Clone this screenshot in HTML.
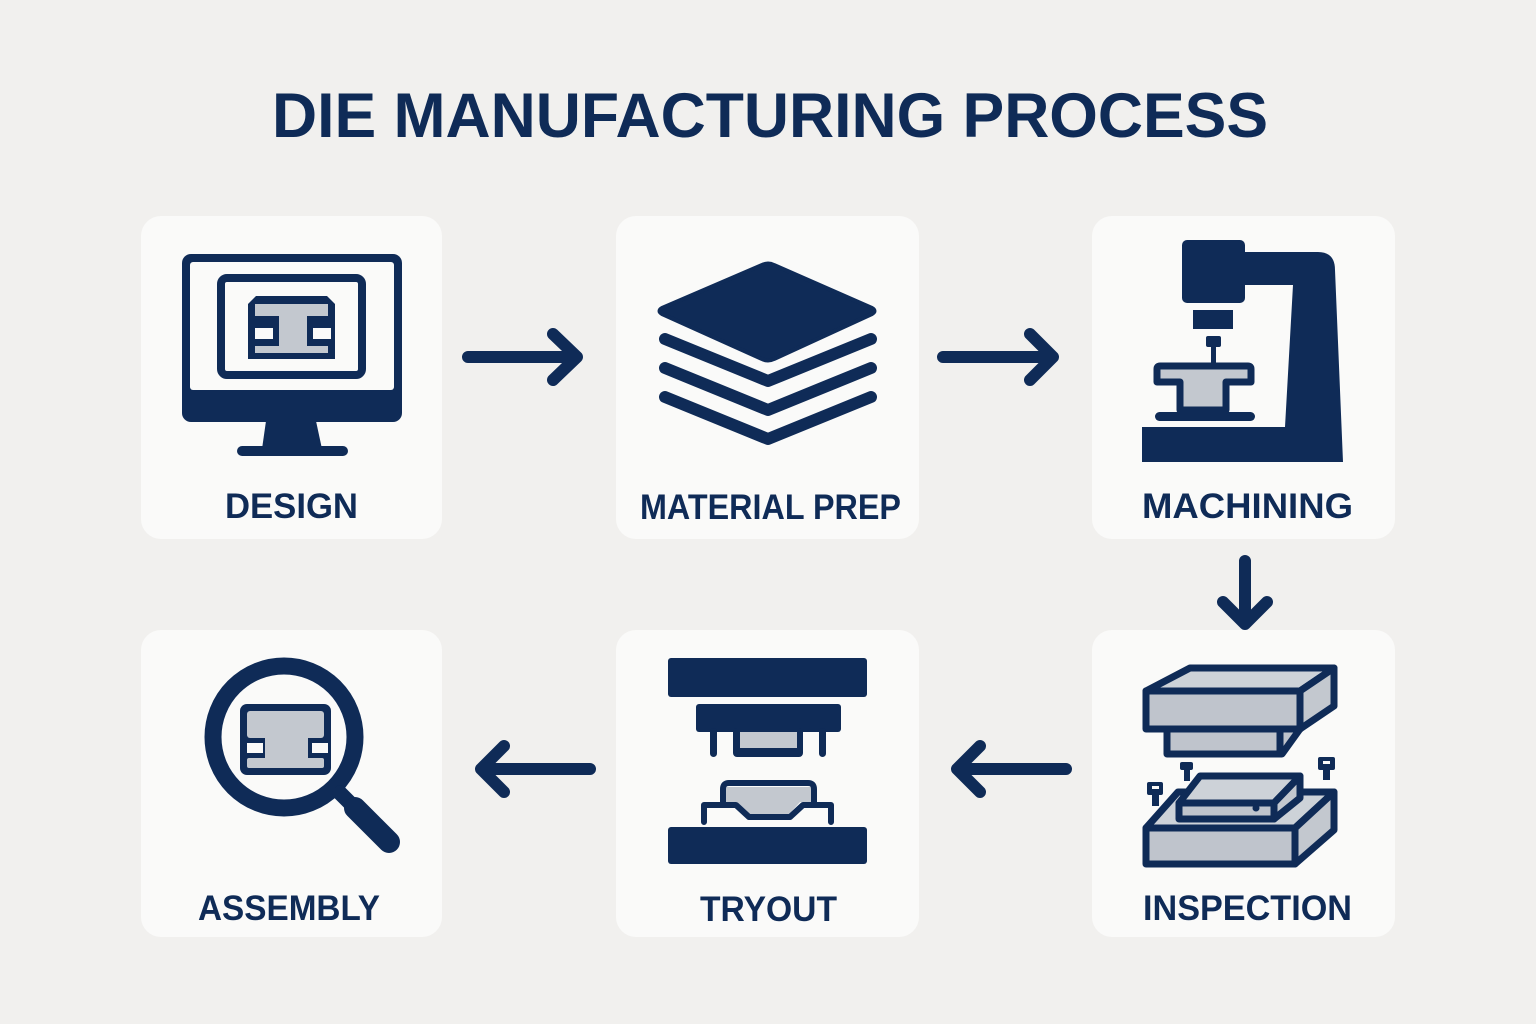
<!DOCTYPE html>
<html>
<head>
<meta charset="utf-8">
<style>
  html,body{margin:0;padding:0;background:#f1f0ee;}
  svg{display:block;}
  text{font-family:"Liberation Sans",Arial,sans-serif;font-weight:bold;fill:#0f2b57;}
</style>
</head>
<body>
<svg width="1536" height="1024" viewBox="0 0 1536 1024" xmlns="http://www.w3.org/2000/svg">
  <rect x="0" y="0" width="1536" height="1024" fill="#f1f0ee"/>

  <!-- Title -->
  <text x="272" y="137" font-size="63" textLength="996" lengthAdjust="spacingAndGlyphs">DIE MANUFACTURING PROCESS</text>

  <!-- Cards -->
  <g fill="#fafaf9">
    <rect x="141" y="216" width="301" height="323" rx="20"/>
    <rect x="616" y="216" width="303" height="323" rx="20"/>
    <rect x="1092" y="216" width="303" height="323" rx="20"/>
    <rect x="141" y="630" width="301" height="307" rx="20"/>
    <rect x="616" y="630" width="303" height="307" rx="20"/>
    <rect x="1092" y="630" width="303" height="307" rx="20"/>
  </g>

  <!-- Arrows -->
  <g fill="none" stroke="#0f2b57" stroke-width="12" stroke-linecap="round" stroke-linejoin="round">
    <path d="M468,357 H574 M553,334 L577,357 L553,380"/>
    <path d="M943,357 H1049 M1030,334 L1053,357 L1030,380"/>
    <path d="M1245,561 V622 M1223,602 L1245,624 L1267,602"/>
    <path d="M1066,769 H960 M980,746 L957,769 L980,792"/>
    <path d="M590,769 H484 M504,746 L481,769 L504,792"/>
  </g>

  <!-- DESIGN icon -->
  <g>
    <rect x="182" y="254" width="220" height="168" rx="9" fill="#0f2b57"/>
    <rect x="190" y="262" width="204" height="128" rx="3" fill="#fafaf9"/>
    <polygon points="266,421 316,421 322,449 262,449" fill="#0f2b57"/>
    <rect x="237" y="446" width="111" height="10" rx="5" fill="#0f2b57"/>
    <rect x="221" y="278" width="141" height="97" rx="6" fill="none" stroke="#0f2b57" stroke-width="8"/>
    <!-- I shape -->
    <path d="M256,296 H327 L335,304 V359 H248 V304 Z" fill="#0f2b57"/>
    <rect x="255" y="304" width="73" height="12" fill="#c3c8cf"/>
    <rect x="279" y="316" width="28" height="32" fill="#c3c8cf"/>
    <rect x="255" y="346" width="73" height="7" fill="#c3c8cf"/>
    <rect x="255" y="328" width="18" height="11" fill="#fafaf9"/>
    <rect x="313" y="328" width="18" height="11" fill="#fafaf9"/>
  </g>
  <text x="225" y="518" font-size="35" textLength="133" lengthAdjust="spacingAndGlyphs">DESIGN</text>

  <!-- MATERIAL PREP icon -->
  <g>
    <path d="M662,308 L762,265 Q768,262 774,265 L872,308 Q877,311 872,314 L774,359 Q768,362 762,359 L662,314 Q657,311 662,308 Z" fill="#0f2b57" stroke="#0f2b57" stroke-width="4" stroke-linejoin="round"/>
    <g fill="none" stroke="#0f2b57" stroke-width="12" stroke-linecap="round" stroke-linejoin="round">
      <polyline points="665,339 768,381 871,339"/>
      <polyline points="665,368 768,410 871,368"/>
      <polyline points="665,397 768,439 871,397"/>
    </g>
  </g>
  <text x="640" y="519" font-size="35" textLength="261" lengthAdjust="spacingAndGlyphs">MATERIAL PREP</text>

  <!-- MACHINING icon -->
  <g fill="#0f2b57">
    <rect x="1182" y="240" width="63" height="63" rx="5"/>
    <path d="M1240,252 H1318 Q1335,252 1335,270 L1343,462 H1142 V427 H1285 L1293,285 H1240 Z"/>
    <rect x="1193" y="310" width="40" height="19"/>
    <rect x="1206" y="336" width="15" height="11" rx="2"/>
    <rect x="1211" y="346" width="5" height="18"/>
    <rect x="1155" y="412" width="100" height="9" rx="4.5"/>
  </g>
  <path d="M1160,366 H1248 Q1251,366 1251,369 V382 H1226 V410 H1180 V382 H1157 V369 Q1157,366 1160,366 Z" fill="#c3c8cf" stroke="#0f2b57" stroke-width="7" stroke-linejoin="round"/>
  <text x="1142" y="518" font-size="35" textLength="211" lengthAdjust="spacingAndGlyphs">MACHINING</text>

  <!-- INSPECTION icon -->
  <g stroke="#0f2b57" stroke-width="7" stroke-linejoin="round">
    <!-- upper die -->
    <polygon points="1146,691 1190,668 1334,668 1300,691" fill="#cdd2d8"/>
    <polygon points="1300,691 1334,668 1334,706 1300,729" fill="#c3c8cf"/>
    <polygon points="1167,729 1300,729 1282,754 1167,754" fill="#bfc4cc"/>
    <rect x="1146" y="691" width="154" height="38" fill="#bfc4cc"/>
    <line x1="1280" y1="729" x2="1280" y2="754"/>
    <!-- lower box -->
    <polygon points="1146,828 1178,792 1334,792 1295,828" fill="#cdd2d8"/>
    <polygon points="1295,828 1334,792 1334,830 1295,864" fill="#c3c8cf"/>
    <rect x="1146" y="828" width="149" height="36" fill="#bfc4cc"/>
    <!-- small box -->
    <polygon points="1179,803 1200,776 1300,776 1274,803" fill="#cdd2d8"/>
    <polygon points="1274,803 1300,776 1300,798 1274,819" fill="#c3c8cf"/>
    <rect x="1179" y="803" width="95" height="16" fill="#bfc4cc"/>
  </g>
  <g fill="#0f2b57">
    <circle cx="1256" cy="808" r="3.5"/>
    <rect x="1147" y="782" width="16" height="13" rx="2"/>
    <rect x="1152" y="794" width="7" height="12"/>
    <rect x="1180" y="762" width="13" height="8" rx="2"/>
    <rect x="1184" y="769" width="6" height="12"/>
    <rect x="1318" y="757" width="17" height="13" rx="2"/>
    <rect x="1323" y="769" width="7" height="11"/>
  </g>
  <g fill="#fafaf9">
    <rect x="1152" y="786" width="7" height="3"/>
    <rect x="1323" y="761" width="7" height="3"/>
  </g>
  <text x="1143" y="920" font-size="35" textLength="209" lengthAdjust="spacingAndGlyphs">INSPECTION</text>

  <!-- TRYOUT icon -->
  <g fill="#0f2b57">
    <rect x="668" y="658" width="199" height="39" rx="3"/>
    <rect x="696" y="704" width="145" height="28" rx="3"/>
    <rect x="710" y="728" width="7" height="29" rx="3.5"/>
    <rect x="819" y="728" width="7" height="29" rx="3.5"/>
    <rect x="733" y="728" width="70" height="29" rx="4"/>
    <rect x="668" y="827" width="199" height="37" rx="3"/>
  </g>
  <rect x="740" y="732" width="57" height="16" fill="#c3c8cf"/>
  <polygon points="726,787 811,787 811,802 800,802 789,814 749,814 737,802 726,802" fill="#c3c8cf"/>
  <g fill="none" stroke="#0f2b57" stroke-width="6" stroke-linejoin="round" stroke-linecap="round">
    <path d="M704,822 V805 H736 L749,817 H790 L803,805 H831 V822"/>
    <path d="M723,805 V789 Q723,783 729,783 H808 Q814,783 814,789 V805"/>
  </g>
  <text x="700" y="921" font-size="35" textLength="137" lengthAdjust="spacingAndGlyphs">TRYOUT</text>

  <!-- ASSEMBLY icon -->
  <g>
    <circle cx="284" cy="737" r="71" fill="none" stroke="#0f2b57" stroke-width="17"/>
    <line x1="340" y1="793" x2="360" y2="813" stroke="#0f2b57" stroke-width="15" stroke-linecap="round"/>
    <line x1="355" y1="808" x2="389" y2="842" stroke="#0f2b57" stroke-width="22" stroke-linecap="round"/>
    <rect x="240" y="704" width="91" height="71" rx="7" fill="#0f2b57"/>
    <rect x="247" y="711" width="77" height="27" rx="3" fill="#c3c8cf"/>
    <rect x="265" y="736" width="43" height="24" fill="#c3c8cf"/>
    <rect x="247" y="758" width="77" height="10" rx="2" fill="#c3c8cf"/>
    <rect x="247" y="743" width="16" height="10" fill="#fafaf9"/>
    <rect x="312" y="743" width="16" height="10" fill="#fafaf9"/>
  </g>
  <text x="198" y="920" font-size="35" textLength="182" lengthAdjust="spacingAndGlyphs">ASSEMBLY</text>
</svg>
</body>
</html>
